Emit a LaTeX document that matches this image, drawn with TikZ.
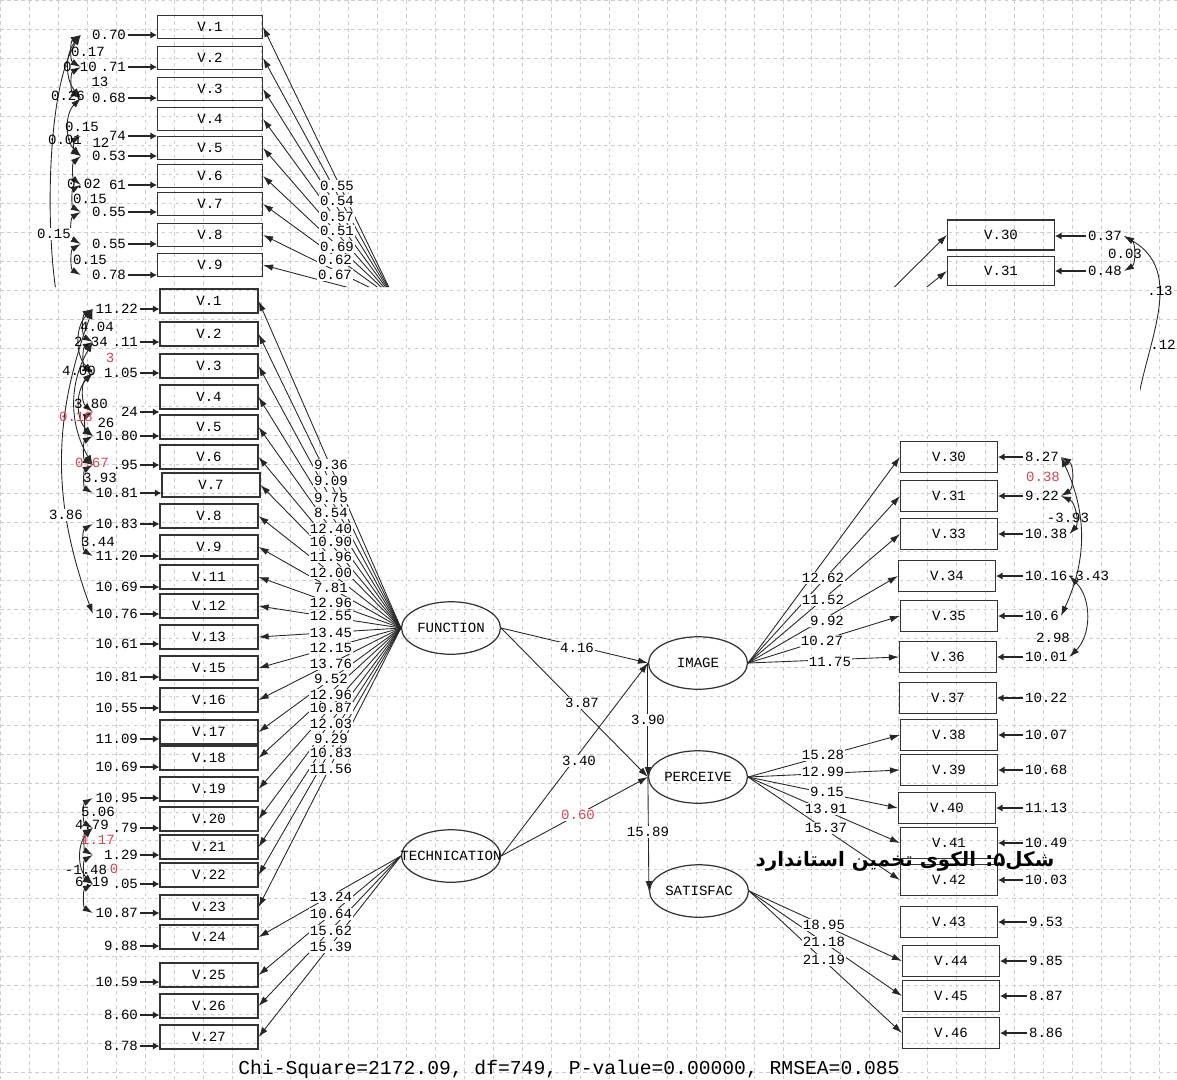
\documentclass[tikz,border=0pt]{standalone}
\usepackage{fontspec}
\usetikzlibrary{shapes.geometric, arrows.meta}
\newfontfamily\lismono{Liberation Mono}
\newfontfamily\farsi[Script=Arabic]{DejaVu Sans}
\TeXXeTstate=1
\definecolor{lisred}{RGB}{214,70,80}
\definecolor{gridgray}{RGB}{205,205,205}

\begin{document}
\begin{tikzpicture}[x=0.02cm, y=-0.02cm,
every node/.style={font=\lismono\fontsize{8}{9}\selectfont},
ind/.style={rectangle, draw=black!80, line width=0.7pt, minimum width=1.96cm, minimum height=0.48cm, inner sep=0pt},
indr/.style={ind, minimum width=1.94cm, minimum height=0.62cm},
indt/.style={ind, minimum width=2.1cm, minimum height=0.46cm},
lat/.style={ellipse, draw=black!80, line width=0.7pt, minimum width=1.98cm, minimum height=1.05cm, inner sep=0pt},
errl/.style={anchor=east, text width=0.86cm, align=right, inner sep=1pt},
errr/.style={anchor=west, inner sep=1pt},
est/.style={fill=white, inner sep=0.6pt},
cv/.style={inner sep=0.5pt},
earrow/.style={-{Latex[length=1.3mm, width=1.5mm]}, line width=0.9pt, black!85},
load/.style={-{Latex[length=2mm, width=1.3mm]}, line width=0.5pt, black!85},
covarr/.style={{Latex[length=2mm, width=1.3mm]}-{Latex[length=2mm, width=1.3mm]}, line width=0.5pt, black!85},
gridline/.style={gridgray, dash pattern=on 2pt off 2pt, line width=0.4pt}
]
\useasboundingbox (0,0) rectangle (1177,1079);
\draw[gridline] (0,0) grid[step=0.58cm] (1177,1079);

% Upper screenshot, mostly hidden
\begin{scope}
\clip (0,0) rectangle (1177,287) (1140,287) rectangle (1177,410);
\coordinate (tfun) at (395,300);
\coordinate (timg) at (760,420);
\coordinate (tcv) at (62,320);
\coordinate (tcov) at (1135,440);
\node[indt] (b1) at (210,27) {V.1}; \node[errl] (eb1) at (128,35) {0.70}; \draw[earrow] (eb1) -- (eb1 -| b1.west);
\node[indt] (b2) at (210,58) {V.2}; \node[errl] (eb2) at (128,67) {.71}; \draw[earrow] (eb2) -- (eb2 -| b2.west);
\node[indt] (b3) at (210,89) {V.3}; \node[errl] (eb3) at (128,98) {0.68}; \draw[earrow] (eb3) -- (eb3 -| b3.west);
\node[indt] (b4) at (210,119) {V.4}; \node[errl] (eb4) at (128,136) {74}; \draw[earrow] (eb4) -- (eb4 -| b4.west);
\node[indt] (b5) at (210,148) {V.5}; \node[errl] (eb5) at (128,156) {0.53}; \draw[earrow] (eb5) -- (eb5 -| b5.west);
\node[indt] (b6) at (210,176) {V.6}; \node[errl] (eb6) at (128,185) {61}; \draw[earrow] (eb6) -- (eb6 -| b6.west);
\node[indt] (b7) at (210,204) {V.7}; \node[errl] (eb7) at (128,212) {0.55}; \draw[earrow] (eb7) -- (eb7 -| b7.west);
\node[indt] (b8) at (210,235) {V.8}; \node[errl] (eb8) at (128,244) {0.55}; \draw[earrow] (eb8) -- (eb8 -| b8.west);
\node[indt] (b9) at (210,265) {V.9}; \node[errl] (eb9) at (128,275) {0.78}; \draw[earrow] (eb9) -- (eb9 -| b9.west);
\draw[load] (tfun) -- (b1.east); \draw[load] (tfun) -- (b2.east); \draw[load] (tfun) -- (b3.east);
\draw[load] (tfun) -- (b4.east); \draw[load] (tfun) -- (b5.east); \draw[load] (tfun) -- (b6.east);
\draw[load] (tfun) -- (b7.east); \draw[load] (tfun) -- (b8.east); \draw[load] (tfun) -- (b9.east);
\node[est] (tl1) at (337,186) {0.55};
\node[est] (tl2) at (337,201) {0.54};
\node[est] (tl3) at (337,217) {0.57};
\node[est] (tl4) at (337,231) {0.51};
\node[est] (tl5) at (337,247) {0.69};
\node[est] (tl6) at (335,260) {0.62};
\node[est] (tl7) at (335,275) {0.67};
% error covariances
\draw[covarr] (eb1.west) to[bend right=60] (eb2.west);
\draw[covarr] (eb2.west) to[bend right=60] (eb3.west);
\draw[covarr] (eb1.west) to[bend right=40] (eb3.west);
\draw[covarr] (eb3.west) to[bend right=45] (eb5.west);
\draw[covarr] (eb4.west) to[bend right=60] (eb5.west);
\draw[covarr] (eb5.west) to[bend right=50] (eb6.west);
\draw[covarr] (eb6.west) to[bend right=60] (eb7.west);
\draw[covarr] (eb7.west) to[bend right=60] (eb8.west);
\draw[covarr] (eb8.west) to[bend right=60] (eb9.west);
\draw[covarr] (eb1.west) .. controls (45,90) and (45,250) .. (tcv);
\node[cv] (tc1) at (88,52) {0.17};
\node[cv] (tc2) at (80,67) {0.10};
\node[cv] (tc3) at (68,96) {0.26};
\node[cv] (tc4) at (100,82) {13};
\node[cv] (tc5) at (82,127) {0.15};
\node[cv] (tc6) at (65,140) {0.01};
\node[cv] (tc7) at (101,143) {12};
\node[cv] (tc8) at (84,184) {0.02};
\node[cv] (tc9) at (90,199) {0.15};
\node[est] (tc10) at (54,234) {0.15};
\node[cv] (tc11) at (90,260) {0.15};
% right part
\node[ind, minimum width=2.14cm, minimum height=0.6cm] (c30) at (1001,235) {V.30};
\node[errr] (ec30) at (1086,236) {0.37}; \draw[earrow] (ec30) -- (ec30 -| c30.east);
\node[ind, minimum width=2.14cm, minimum height=0.58cm] (c31) at (1001,271) {V.31};
\node[errr] (ec31) at (1086,271) {0.48}; \draw[earrow] (ec31) -- (ec31 -| c31.east);
\draw[load] (timg) -- (c30.west); \draw[load] (timg) -- (c31.west);
\draw[covarr] (ec30.east) to[bend left=60] (ec31.east);
\draw[covarr] (ec30.east) to[out=-30, in=90] (tcov);
\node[cv] (tc12) at (1125,254) {0.03};
\node[cv] (tc13) at (1160,291) {.13};
\node[cv] (tc14) at (1163,345) {.12};
\end{scope}

% Lower screenshot
\node[lat, label=center:FUNCTION] (fun) at (451,628) {};
\node[lat, label=center:TECHNICATION] (tec) at (451,856) {};
\node[lat, label=center:IMAGE] (img) at (698,663) {};
\node[lat, label=center:PERCEIVE] (per) at (698,777) {};
\node[lat, label=center:SATISFAC] (sat) at (699,891) {};

% left indicators
\node[ind] (a1) at (209,301) {V.1}; \node[errl] (ea1) at (140,309) {11.22}; \draw[earrow] (ea1) -- (ea1 -| a1.west);
\node[ind] (a2) at (209,334) {V.2}; \node[errl] (ea2) at (140,342) {.11}; \draw[earrow] (ea2) -- (ea2 -| a2.west);
\node[ind] (a3) at (209,366) {V.3}; \node[errl] (ea3) at (140,373) {1.05}; \draw[earrow] (ea3) -- (ea3 -| a3.west);
\node[ind] (a4) at (209,397) {V.4}; \node[errl] (ea4) at (140,412) {24}; \draw[earrow] (ea4) -- (ea4 -| a4.west);
\node[ind] (a5) at (209,427) {V.5}; \node[errl] (ea5) at (140,436) {10.80}; \draw[earrow] (ea5) -- (ea5 -| a5.west);
\node[ind] (a6) at (209,457) {V.6}; \node[errl] (ea6) at (140,465) {.95}; \draw[earrow] (ea6) -- (ea6 -| a6.west);
\node[ind] (a7) at (211,485) {V.7}; \node[errl] (ea7) at (140,493) {10.81}; \draw[earrow] (ea7) -- (ea7 -| a7.west);
\node[ind] (a8) at (209,516) {V.8}; \node[errl] (ea8) at (140,524) {10.83}; \draw[earrow] (ea8) -- (ea8 -| a8.west);
\node[ind] (a9) at (209,547) {V.9}; \node[errl] (ea9) at (140,556) {11.20}; \draw[earrow] (ea9) -- (ea9 -| a9.west);
\node[ind] (a11) at (209,577) {V.11}; \node[errl] (ea11) at (140,587) {10.69}; \draw[earrow] (ea11) -- (ea11 -| a11.west);
\node[ind] (a12) at (209,606) {V.12}; \node[errl] (ea12) at (140,614) {10.76}; \draw[earrow] (ea12) -- (ea12 -| a12.west);
\node[ind] (a13) at (209,637) {V.13}; \node[errl] (ea13) at (140,644) {10.61}; \draw[earrow] (ea13) -- (ea13 -| a13.west);
\node[ind] (a15) at (209,668) {V.15}; \node[errl] (ea15) at (140,677) {10.81}; \draw[earrow] (ea15) -- (ea15 -| a15.west);
\node[ind] (a16) at (209,700) {V.16}; \node[errl] (ea16) at (140,708) {10.55}; \draw[earrow] (ea16) -- (ea16 -| a16.west);
\node[ind] (a17) at (209,732) {V.17}; \node[errl] (ea17) at (140,739) {11.09}; \draw[earrow] (ea17) -- (ea17 -| a17.west);
\node[ind] (a18) at (209,758) {V.18}; \node[errl] (ea18) at (140,767) {10.69}; \draw[earrow] (ea18) -- (ea18 -| a18.west);
\node[ind] (a19) at (209,789) {V.19}; \node[errl] (ea19) at (140,798) {10.95}; \draw[earrow] (ea19) -- (ea19 -| a19.west);
\node[ind] (a20) at (209,819) {V.20}; \node[errl] (ea20) at (140,828) {.79}; \draw[earrow] (ea20) -- (ea20 -| a20.west);
\node[ind] (a21) at (209,847) {V.21}; \node[errl] (ea21) at (140,855) {1.29}; \draw[earrow] (ea21) -- (ea21 -| a21.west);
\node[ind] (a22) at (209,875) {V.22}; \node[errl] (ea22) at (140,884) {.05}; \draw[earrow] (ea22) -- (ea22 -| a22.west);
\node[ind] (a23) at (209,907) {V.23}; \node[errl] (ea23) at (140,913) {10.87}; \draw[earrow] (ea23) -- (ea23 -| a23.west);
\node[ind] (a24) at (209,937) {V.24}; \node[errl] (ea24) at (140,946) {9.88}; \draw[earrow] (ea24) -- (ea24 -| a24.west);
\node[ind] (a25) at (209,975) {V.25}; \node[errl] (ea25) at (140,982) {10.59}; \draw[earrow] (ea25) -- (ea25 -| a25.west);
\node[ind] (a26) at (209,1006) {V.26}; \node[errl] (ea26) at (140,1015) {8.60}; \draw[earrow] (ea26) -- (ea26 -| a26.west);
\node[ind] (a27) at (209,1037) {V.27}; \node[errl] (ea27) at (140,1046) {8.78}; \draw[earrow] (ea27) -- (ea27 -| a27.west);

% loadings of FUNCTION and TECHNICATION
\draw[load] (fun.west) -- (a1.east); \draw[load] (fun.west) -- (a2.east); \draw[load] (fun.west) -- (a3.east);
\draw[load] (fun.west) -- (a4.east); \draw[load] (fun.west) -- (a5.east); \draw[load] (fun.west) -- (a6.east);
\draw[load] (fun.west) -- (a7.east); \draw[load] (fun.west) -- (a8.east); \draw[load] (fun.west) -- (a9.east);
\draw[load] (fun.west) -- (a11.east); \draw[load] (fun.west) -- (a12.east); \draw[load] (fun.west) -- (a13.east);
\draw[load] (fun.west) -- (a15.east); \draw[load] (fun.west) -- (a16.east); \draw[load] (fun.west) -- (a17.east);
\draw[load] (fun.west) -- (a18.east); \draw[load] (fun.west) -- (a19.east); \draw[load] (fun.west) -- (a20.east);
\draw[load] (fun.west) -- (a21.east); \draw[load] (fun.west) -- (a22.east); \draw[load] (fun.west) -- (a23.east);
\draw[load] (tec.west) -- (a24.east); \draw[load] (tec.west) -- (a25.east);
\draw[load] (tec.west) -- (a26.east); \draw[load] (tec.west) -- (a27.east);
\node[est] (f1) at (331,465) {9.36};
\node[est] (f2) at (331,481) {9.09};
\node[est] (f3) at (331,498) {9.75};
\node[est] (f4) at (331,513) {8.54};
\node[est] (f5) at (331,529) {12.40};
\node[est] (f6) at (331,542) {10.90};
\node[est] (f7) at (331,557) {11.96};
\node[est] (f8) at (331,573) {12.00};
\node[est] (f9) at (331,588) {7.81};
\node[est] (f11) at (331,603) {12.96};
\node[est] (f12) at (331,616) {12.55};
\node[est] (f13) at (331,633) {13.45};
\node[est] (f15) at (331,648) {12.15};
\node[est] (f16) at (331,664) {13.76};
\node[est] (f17) at (331,679) {9.52};
\node[est] (f18) at (331,695) {12.96};
\node[est] (f19) at (331,708) {10.87};
\node[est] (f20) at (331,724) {12.03};
\node[est] (f21) at (331,739) {9.29};
\node[est] (f22) at (331,753) {10.83};
\node[est] (f23) at (331,769) {11.56};
\node[est] (g24) at (331,897) {13.24};
\node[est] (g25) at (331,914) {10.64};
\node[est] (g26) at (331,931) {15.62};
\node[est] (g27) at (331,947) {15.39};

% error covariances, left side
\draw[covarr] (ea1.west) to[bend right=60] (ea2.west);
\draw[covarr] (ea1.west) to[bend right=45] (ea3.west);
\draw[covarr] (ea2.west) to[bend right=60] (ea3.west);
\draw[covarr] (ea3.west) to[bend right=45] (ea5.west);
\draw[covarr] (ea3.west) to[bend right=50] (ea4.west);
\draw[covarr] (ea2.west) to[bend right=30] (ea6.west);
\draw[covarr] (ea4.west) to[bend right=60] (ea5.west);
\draw[covarr] (ea5.west) to[bend right=60] (ea6.west);
\draw[covarr] (ea6.west) to[bend right=60] (ea7.west);
\draw[covarr] (ea1.west) to[bend right=20] (ea12.west);
\draw[covarr] (ea8.west) to[bend right=60] (ea9.west);
\draw[covarr] (ea19.west) to[bend right=60] (ea20.west);
\draw[covarr] (ea20.west) to[bend right=60] (ea21.west);
\draw[covarr] (ea21.west) to[bend right=60] (ea22.west);
\draw[covarr] (ea20.west) to[bend right=45] (ea22.west);
\draw[covarr] (ea22.west) to[bend right=60] (ea23.west);
\node[cv] (lc1) at (97,327) {4.04};
\node[cv] (lc2) at (91,342) {2.34};
\node[cv, text=lisred] (lc3) at (110,358) {3};
\node[cv] (lc4) at (79,371) {4.00};
\node[cv] (lc5) at (91,404) {3.80};
\node[cv, text=lisred] (lc6) at (76,417) {0.18};
\node[cv] (lc7) at (106,423) {26};
\node[cv, text=lisred] (lc8) at (92,463) {0.67};
\node[cv] (lc9) at (100,478) {3.93};
\node[est] (lc10) at (66,515) {3.86};
\node[cv] (lc11) at (98,542) {3.44};
\node[cv] (lc12) at (98,812) {5.06};
\node[cv] (lc13) at (92,825) {4.79};
\node[cv, text=lisred] (lc14) at (98,840) {1.17};
\node[cv] (lc15) at (86,870) {-1.48};
\node[cv, text=lisred] (lc16) at (114,869) {0};
\node[cv] (lc17) at (92,882) {6.19};

% structural paths
\draw[load] (fun.east) -- (img.west);
\draw[load] (fun.east) -- (per.west);
\draw[load] (tec.east) -- (img.west);
\draw[load] (tec.east) -- (per.west);
\draw[load] (img.west) -- (per.west);
\draw[load] (per.west) -- (sat.west);
\node[est] (s1) at (577,648) {4.16};
\node[est] (s2) at (582,703) {3.87};
\node[est] (s3) at (579,761) {3.40};
\node[est, text=lisred] (s4) at (578,815) {0.60};
\node[est] (s5) at (648,720) {3.90};
\node[est] (s6) at (648,832) {15.89};

% right indicators
\node[indr] (r30) at (949,457) {V.30}; \node[errr] (er30) at (1023,457) {8.27}; \draw[earrow] (er30) -- (er30 -| r30.east);
\node[indr] (r31) at (949,496) {V.31}; \node[errr] (er31) at (1023,496) {9.22}; \draw[earrow] (er31) -- (er31 -| r31.east);
\node[indr] (r33) at (949,534) {V.33}; \node[errr] (er33) at (1023,534) {10.38}; \draw[earrow] (er33) -- (er33 -| r33.east);
\node[indr] (r34) at (947,576) {V.34}; \node[errr] (er34) at (1023,576) {10.16}; \draw[earrow] (er34) -- (er34 -| r34.east);
\node[indr] (r35) at (949,616) {V.35}; \node[errr] (er35) at (1023,616) {10.6}; \draw[earrow] (er35) -- (er35 -| r35.east);
\node[indr] (r36) at (948,657) {V.36}; \node[errr] (er36) at (1023,657) {10.01}; \draw[earrow] (er36) -- (er36 -| r36.east);
\node[indr] (r37) at (948,698) {V.37}; \node[errr] (er37) at (1023,698) {10.22}; \draw[earrow] (er37) -- (er37 -| r37.east);
\node[indr] (r38) at (949,735) {V.38}; \node[errr] (er38) at (1023,735) {10.07}; \draw[earrow] (er38) -- (er38 -| r38.east);
\node[indr] (r39) at (949,770) {V.39}; \node[errr] (er39) at (1023,770) {10.68}; \draw[earrow] (er39) -- (er39 -| r39.east);
\node[indr] (r40) at (947,808) {V.40}; \node[errr] (er40) at (1023,808) {11.13}; \draw[earrow] (er40) -- (er40 -| r40.east);
\node[indr] (r41) at (949,843) {V.41}; \node[errr] (er41) at (1023,843) {10.49}; \draw[earrow] (er41) -- (er41 -| r41.east);
\node[indr] (r42) at (949,880) {V.42}; \node[errr] (er42) at (1023,880) {10.03}; \draw[earrow] (er42) -- (er42 -| r42.east);
\node[indr] (r43) at (949,922) {V.43}; \node[errr] (er43) at (1027,922) {9.53}; \draw[earrow] (er43) -- (er43 -| r43.east);
\node[indr] (r44) at (951,961) {V.44}; \node[errr] (er44) at (1027,961) {9.85}; \draw[earrow] (er44) -- (er44 -| r44.east);
\node[indr] (r45) at (951,996) {V.45}; \node[errr] (er45) at (1027,996) {8.87}; \draw[earrow] (er45) -- (er45 -| r45.east);
\node[indr] (r46) at (951,1033) {V.46}; \node[errr] (er46) at (1027,1033) {8.86}; \draw[earrow] (er46) -- (er46 -| r46.east);

% loadings of IMAGE, PERCEIVE and SATISFAC
\draw[load] (img.east) -- (r30.west); \draw[load] (img.east) -- (r31.west); \draw[load] (img.east) -- (r33.west);
\draw[load] (img.east) -- (r34.west); \draw[load] (img.east) -- (r35.west); \draw[load] (img.east) -- (r36.west);
\draw[load] (per.east) -- (r38.west); \draw[load] (per.east) -- (r39.west); \draw[load] (per.east) -- (r40.west);
\draw[load] (per.east) -- (r41.west); \draw[load] (per.east) -- (r42.west);
\draw[load] (sat.east) -- (r44.west); \draw[load] (sat.east) -- (r45.west); \draw[load] (sat.east) -- (r46.west);
\node[est] (i31) at (823,578) {12.62};
\node[est] (i33) at (823,600) {11.52};
\node[est] (i34) at (827,621) {9.92};
\node[est] (i35) at (822,641) {10.27};
\node[est] (i36) at (830,662) {11.75};
\node[est] (p38) at (823,755) {15.28};
\node[est] (p39) at (823,772) {12.99};
\node[est] (p40) at (827,792) {9.15};
\node[est] (p41) at (826,809) {13.91};
\node[est] (p42) at (826,828) {15.37};
\node[est] (q44) at (824,925) {18.95};
\node[est] (q45) at (824,942) {21.18};
\node[est] (q46) at (824,960) {21.19};

% error covariances, right side
\draw[covarr] (er30.east) to[bend left=60] (er31.east);
\draw[covarr] (er31.east) to[bend left=55] (er33.east);
\draw[covarr] (er30.east) to[bend left=25] (er35.east);
\draw[covarr] (er34.east) to[bend left=45] (er36.east);
\node[cv, text=lisred] (rc1) at (1043,477) {0.38};
\node[cv] (rc2) at (1068,518) {-3.93};
\node[cv] (rc3) at (1088,576) {-3.43};
\node[cv] (rc4) at (1053,638) {2.98};

% caption and fit line
\node (cap) at (905,861) {\farsi\bfseries\fontsize{11.3}{13}\selectfont\beginR شکل۵: الکوی تخمین استاندارد\endR};
\node[font=\lismono\fontsize{11.2}{13}\selectfont] (chi) at (569,1069) {Chi-Square=2172.09, df=749, P-value=0.00000, RMSEA=0.085};
\end{tikzpicture}
\end{document}
